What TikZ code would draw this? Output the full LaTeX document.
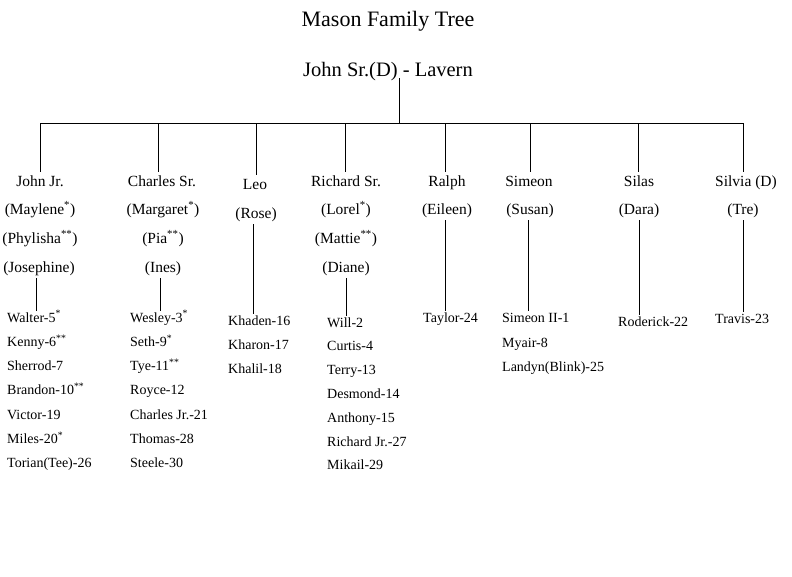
\documentclass[tikz,border=0pt]{standalone}
\usepackage{fontspec}
\setmainfont{Liberation Serif}
\begin{document}
\begin{tikzpicture}[x=1pt,y=-1pt,
  ttl/.style={font=\fontsize{22}{22}\selectfont, anchor=base, inner sep=0pt},
  couple/.style={font=\fontsize{20.5}{20.5}\selectfont, anchor=base, inner sep=1pt, text depth=1pt},
  person/.style={font=\fontsize{15.5}{15.5}\selectfont, anchor=base, inner sep=3pt, text height=11pt, text depth=3pt},
  kid/.style={font=\fontsize{14}{14}\selectfont, anchor=base west, inner sep=1pt, text height=10pt, text depth=3pt},
  link/.style={line width=0.8pt}]
\useasboundingbox (0,0) rectangle (792,576);

% heading
\node[ttl] (title) at (388,26) {Mason Family Tree};
\node[couple] (root) at (388,76) {John Sr.(D) - Lavern};

% bar junctions
\coordinate (top) at (399,123);
\coordinate (b1) at (40,123);
\coordinate (b2) at (158,123);
\coordinate (b3) at (256,123);
\coordinate (b4) at (345,123);
\coordinate (b5) at (445,123);
\coordinate (b6) at (530,123);
\coordinate (b7) at (638,123);
\coordinate (b8) at (743,123);

% children of John Sr.
\node[person] (john) at (40,186) {John Jr.};
\node[person] (john-s1) at (40,214) {(Maylene\textsuperscript{*})};
\node[person] (john-s2) at (40,243) {(Phylisha\textsuperscript{**})};
\node[person] (john-s3) at (39,272) {(Josephine)};

\node[person] (charles) at (162,186) {Charles Sr.};
\node[person] (charles-s1) at (163,214) {(Margaret\textsuperscript{*})};
\node[person] (charles-s2) at (163,243) {(Pia\textsuperscript{**})};
\node[person] (charles-s3) at (163,272) {(Ines)};

\node[person] (leo) at (255,189) {Leo};
\node[person] (leo-s1) at (256,218) {(Rose)};

\node[person] (richard) at (346,186) {Richard Sr.};
\node[person] (richard-s1) at (346,214) {(Lorel\textsuperscript{*})};
\node[person] (richard-s2) at (346,243) {(Mattie\textsuperscript{**})};
\node[person] (richard-s3) at (346,272) {(Diane)};

\node[person] (ralph) at (447,186) {Ralph};
\node[person] (ralph-s1) at (447,214) {(Eileen)};

\node[person] (simeon) at (529,186) {Simeon};
\node[person] (simeon-s1) at (530,214) {(Susan)};

\node[person] (silas) at (639,186) {Silas};
\node[person] (silas-s1) at (639,214) {(Dara)};

\node[person] (silvia) at (746,186) {Silvia (D)};
\node[person] (silvia-s1) at (743,214) {(Tre)};

% grandchildren
\node[kid] (g1a) at (6,322.0) {Walter-5\textsuperscript{*}};
\node[kid] (g1b) at (6,346.3) {Kenny-6\textsuperscript{**}};
\node[kid] (g1c) at (6,370.6) {Sherrod-7};
\node[kid] (g1d) at (6,394.9) {Brandon-10\textsuperscript{**}};
\node[kid] (g1e) at (6,419.2) {Victor-19};
\node[kid] (g1f) at (6,443.5) {Miles-20\textsuperscript{*}};
\node[kid] (g1g) at (6,467.8) {Torian(Tee)-26};

\node[kid] (g2a) at (129,322.0) {Wesley-3\textsuperscript{*}};
\node[kid] (g2b) at (129,346.3) {Seth-9\textsuperscript{*}};
\node[kid] (g2c) at (129,370.6) {Tye-11\textsuperscript{**}};
\node[kid] (g2d) at (129,394.9) {Royce-12};
\node[kid] (g2e) at (129,419.2) {Charles Jr.-21};
\node[kid] (g2f) at (129,443.5) {Thomas-28};
\node[kid] (g2g) at (129,467.8) {Steele-30};

\node[kid] (g3a) at (227,325) {Khaden-16};
\node[kid] (g3b) at (227,349) {Kharon-17};
\node[kid] (g3c) at (227,373) {Khalil-18};

\node[kid] (g4a) at (326,327.0) {Will-2};
\node[kid] (g4b) at (326,350.8) {Curtis-4};
\node[kid] (g4c) at (326,374.6) {Terry-13};
\node[kid] (g4d) at (326,398.4) {Desmond-14};
\node[kid] (g4e) at (326,422.2) {Anthony-15};
\node[kid] (g4f) at (326,446.0) {Richard Jr.-27};
\node[kid] (g4g) at (326,469.8) {Mikail-29};

\node[kid] (g5a) at (422,322) {Taylor-24};

\node[kid] (g6a) at (501,322) {Simeon II-1};
\node[kid] (g6b) at (501,347) {Myair-8};
\node[kid] (g6c) at (501,371) {Landyn(Blink)-25};

\node[kid] (g7a) at (617,326) {Roderick-22};

\node[kid] (g8a) at (714,323) {Travis-23};

% connectors
\draw[link] (top |- root.south) -- (top);
\draw[link] (b1) -- (b8);
\draw[link] (b1) -- (b1 |- john.north);
\draw[link] (b2) -- (b2 |- charles.north);
\draw[link] (b3) -- (b3 |- leo.north);
\draw[link] (b4) -- (b4 |- richard.north);
\draw[link] (b5) -- (b5 |- ralph.north);
\draw[link] (b6) -- (b6 |- simeon.north);
\draw[link] (b7) -- (b7 |- silas.north);
\draw[link] (b8) -- (b8 |- silvia.north);

\draw[link] ([xshift=-3pt]john-s3.south) -- ([xshift=-3pt]john-s3.south |- g1a.north);
\draw[link] ([xshift=-3pt]charles-s3.south) -- ([xshift=-3pt]charles-s3.south |- g2a.north);
\draw[link] ([xshift=-3pt]leo-s1.south) -- ([xshift=-3pt]leo-s1.south |- g3a.north);
\draw[link] (richard-s3.south) -- (richard-s3.south |- g4a.north);
\draw[link] ([xshift=-2pt]ralph-s1.south) -- ([xshift=-2pt]ralph-s1.south |- g5a.north);
\draw[link] ([xshift=-2pt]simeon-s1.south) -- ([xshift=-2pt]simeon-s1.south |- g6a.north);
\draw[link] (silas-s1.south) -- (silas-s1.south |- g7a.north);
\draw[link] (silvia-s1.south) -- (silvia-s1.south |- g8a.north);
\end{tikzpicture}
\end{document}
